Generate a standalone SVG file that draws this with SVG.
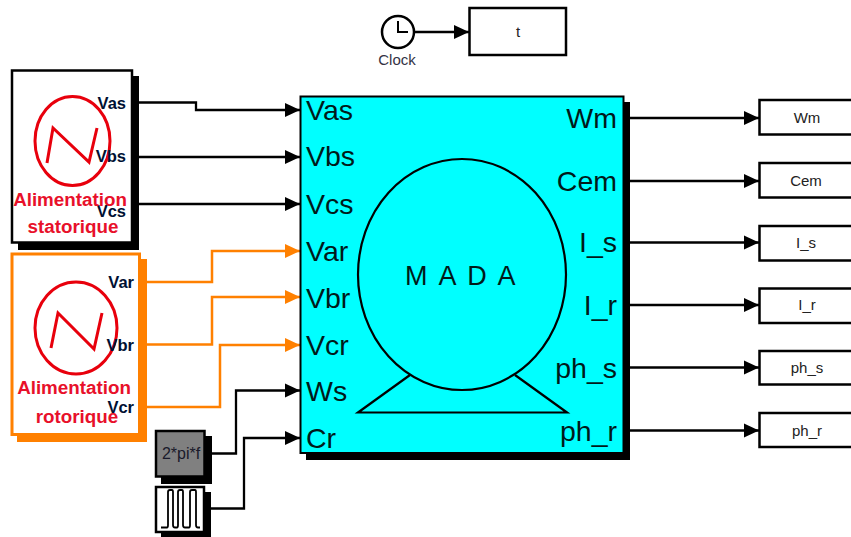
<svg xmlns="http://www.w3.org/2000/svg" width="851" height="537" viewBox="0 0 851 537">
<style>
text{font-family:"Liberation Sans",Arial,sans-serif}
.w{stroke:#000;stroke-width:2.300;fill:none}
.o{stroke:#ff8000;stroke-width:2.500;fill:none}
.b{fill:#fff;stroke:#000;stroke-width:2.500}
.big{font-size:28.500px;fill:#001a1a}
.e{text-anchor:end}
.m{text-anchor:middle}
.sm{font-size:15px;fill:#222;text-anchor:middle}
.p{font-size:16.500px;font-weight:bold;fill:#001033;text-anchor:end}
.r{font-size:18.800px;font-weight:bold;fill:#e8102a;text-anchor:middle}
.red{fill:none;stroke:#e8000c;stroke-width:3}
</style>
<defs>
<marker id="ab" markerUnits="userSpaceOnUse" markerWidth="15" markerHeight="15" refX="15" refY="7.500" orient="auto"><path d="M0,0.500L15,7.500L0,14.500Z" fill="#000"/></marker>
<marker id="ao" markerUnits="userSpaceOnUse" markerWidth="15" markerHeight="15" refX="15" refY="7.500" orient="auto"><path d="M0,0.500L15,7.500L0,14.500Z" fill="#ff8000"/></marker>
</defs>
<rect width="851" height="537" fill="#fff"/>
<g id="connectors">
<path class="w" marker-end="url(#ab)" d="M415,32H469"/>
<path class="w" marker-end="url(#ab)" d="M139,102.500H196V110H300"/>
<path class="w" marker-end="url(#ab)" d="M139,157H300"/>
<path class="w" marker-end="url(#ab)" d="M139,204H300"/>
<path class="o" marker-end="url(#ao)" d="M147,282H212V251H300"/>
<path class="o" marker-end="url(#ao)" d="M147,344.500H212V297H300"/>
<path class="o" marker-end="url(#ao)" d="M147,407H220V345H300"/>
<path class="w" marker-end="url(#ab)" d="M212,453.500H236V390.500H300"/>
<path class="w" marker-end="url(#ab)" d="M211,508.500H244V438H300"/>
<path class="w" marker-end="url(#ab)" d="M630,118H759"/>
<path class="w" marker-end="url(#ab)" d="M630,181H759"/>
<path class="w" marker-end="url(#ab)" d="M630,242.500H759"/>
<path class="w" marker-end="url(#ab)" d="M630,305H759"/>
<path class="w" marker-end="url(#ab)" d="M630,367.500H759"/>
<path class="w" marker-end="url(#ab)" d="M630,430.500H759"/>
</g>
<g id="clock">
<circle cx="398" cy="32" r="16" fill="#fff" stroke="#000" stroke-width="2.500"/>
<path d="M398,21V32H408" fill="none" stroke="#000" stroke-width="2"/>
<text x="397" y="65" class="m" font-size="15" fill="#334">Clock</text>
</g>
<g id="t"><rect class="b" x="469.500" y="8" width="96.500" height="47"/><text x="518" y="37" class="sm">t</text></g>
<g id="alim-stat">
<rect x="18" y="76" width="121" height="174" fill="#000"/>
<rect class="b" x="12" y="70.500" width="120" height="172"/>
<ellipse class="red" cx="72.500" cy="141" rx="37.500" ry="44.500"/>
<path class="red" stroke-width="2.500" d="M47,163L53,128L89,162L97,128"/>
<text x="126" y="109" class="p">Vas</text>
<text x="126" y="162" class="p">Vbs</text>
<text x="126" y="217" class="p">Vcs</text>
<text x="70" y="206" class="r">Alimentation</text>
<text x="73" y="233" class="r">statorique</text>
</g>
<g id="alim-rot">
<rect x="17" y="259" width="130" height="183" fill="#ff8000"/>
<rect x="12" y="254" width="127.500" height="180.500" fill="#fff" stroke="#ff8000" stroke-width="3"/>
<ellipse class="red" cx="76" cy="328" rx="41" ry="46"/>
<path class="red" stroke-width="2.500" d="M51,348L58,313L94,349L102,313"/>
<text x="134" y="288" class="p">Var</text>
<text x="134" y="351" class="p">Vbr</text>
<text x="74" y="394" class="r">Alimentation</text>
<text x="77" y="423" class="r">rotorique</text>
<text x="134" y="413" class="p">Vcr</text>
</g>
<g id="gain">
<rect x="161" y="436" width="51" height="48" fill="#000"/>
<rect x="156" y="431" width="48.500" height="45.500" fill="#808080" stroke="#000" stroke-width="2.500"/>
<text x="181" y="459" class="m" font-size="16" fill="#1a1a2a">2*pi*f</text>
</g>
<g id="pulse">
<rect x="161" y="492" width="50" height="45" fill="#000"/>
<rect x="156" y="487" width="48" height="45" fill="#fff" stroke="#000" stroke-width="2.500"/>
<path d="M161,527.500H167Q168,527.500 168,525V492Q168,490 170,490H172Q173,490 173,492V525Q173,527.500 175,527.500H177Q178,527.500 178,525V492Q178,490 180,490H182Q183,490 183,492V525Q183,527.500 185,527.500H189Q190,527.500 190,525V492Q190,490 192,490H195Q196,490 196,492V525Q196,527.500 198,527.500H200" fill="none" stroke="#000" stroke-width="1.800"/>
</g>
<g id="mada">
<rect x="306" y="102" width="324" height="358" fill="#000"/>
<rect x="300.500" y="96.500" width="323" height="356.500" fill="#00ffff" stroke="#000" stroke-width="2"/>
<ellipse cx="462" cy="274.500" rx="104" ry="115.500" fill="none" stroke="#000" stroke-width="2.200"/>
<path d="M410,375L358,412.500H567L515,375" fill="none" stroke="#000" stroke-width="2.200"/>
<text x="461.500" y="285" class="m" font-size="27" letter-spacing="2.400" fill="#001a1a">M A D A</text>
<text x="306" y="120" class="big">Vas</text>
<text x="306" y="166" class="big">Vbs</text>
<text x="306" y="214" class="big">Vcs</text>
<text x="306" y="261" class="big">Var</text>
<text x="306" y="308" class="big">Vbr</text>
<text x="306" y="355" class="big">Vcr</text>
<text x="306" y="401" class="big">Ws</text>
<text x="306" y="448" class="big">Cr</text>
<text x="617" y="128" class="big e">Wm</text>
<text x="617" y="191" class="big e">Cem</text>
<text x="617" y="252" class="big e">I_s</text>
<text x="617" y="315" class="big e">I_r</text>
<text x="617" y="378" class="big e">ph_s</text>
<text x="617" y="441" class="big e">ph_r</text>
</g>
<g id="out-wm"><rect class="b" x="759.500" y="100" width="100" height="34.500"/><text x="807" y="123" class="sm">Wm</text></g>
<g id="out-cem"><rect class="b" x="759.500" y="163" width="100" height="34.500"/><text x="806" y="186" class="sm">Cem</text></g>
<g id="out-is"><rect class="b" x="759.500" y="226" width="100" height="34.500"/><text x="806" y="248" class="sm">I_s</text></g>
<g id="out-ir"><rect class="b" x="759.500" y="288.500" width="100" height="34.500"/><text x="807" y="310" class="sm">I_r</text></g>
<g id="out-phs"><rect class="b" x="759.500" y="351" width="100" height="33.500"/><text x="807" y="373" class="sm">ph_s</text></g>
<g id="out-phr"><rect class="b" x="759.500" y="413" width="100" height="34"/><text x="807" y="436" class="sm">ph_r</text></g>
</svg>
